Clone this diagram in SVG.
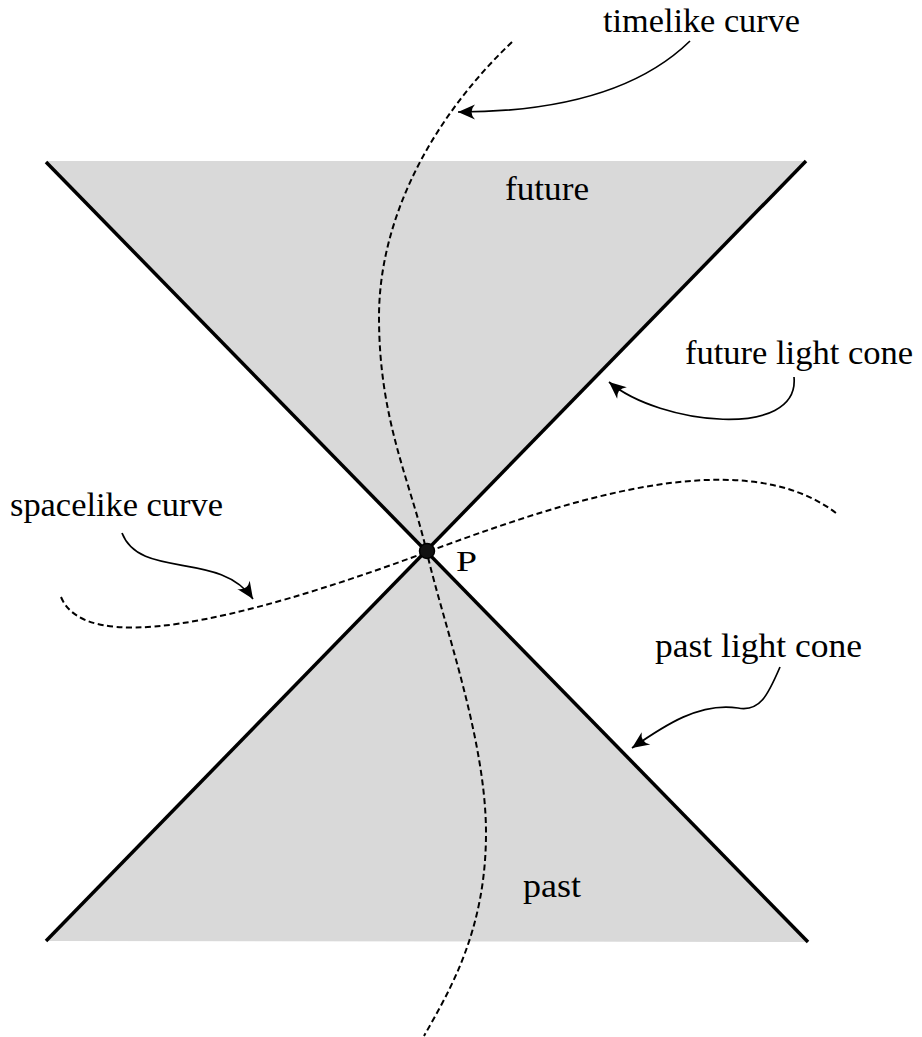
<svg xmlns="http://www.w3.org/2000/svg" width="922" height="1037" viewBox="0 0 922 1037">
<style>
.region{fill:#d9d9d9;stroke:none}
.cone{stroke:#000;stroke-width:3.5;fill:none;stroke-linecap:butt}
.curve{stroke:#000;stroke-width:2;fill:none;stroke-dasharray:6,3.5}
.conn{stroke:#000;stroke-width:1.7;fill:none;marker-end:url(#ah)}
</style>
<defs>
<marker id="ah" viewBox="-18 -8 19 16" refX="0" refY="0" markerWidth="19" markerHeight="16" markerUnits="userSpaceOnUse" orient="auto">
<path d="M0,0 L-17,-7.5 Q-10,0 -17,7.5 Z" fill="#000"/>
</marker>
</defs>
<rect width="922" height="1037" fill="#fff"/>
<g id="future-region">
<polygon class="region" points="46,161 806,161 427,552"/>
<text font-family="Liberation Serif, DejaVu Serif, serif" font-size="33" fill="#000" x="505" y="200" textLength="84" lengthAdjust="spacingAndGlyphs">future</text>
</g>
<g id="past-region">
<polygon class="region" points="427,552 808,942 46,941"/>
<text font-family="Liberation Serif, DejaVu Serif, serif" font-size="33" fill="#000" x="523" y="897" textLength="58" lengthAdjust="spacingAndGlyphs">past</text>
</g>
<g id="light-cone">
<line class="cone" x1="46" y1="162" x2="808" y2="942"/>
<line class="cone" x1="806" y1="161" x2="46" y2="941"/>
</g>
<g id="timelike-curve">
<path class="curve" d="M512,42 C430,120 379,220 379,317 C379,420 410,480 427,553 C444,626 486,740 486,833 C486,930 450,990 424,1036"/>
</g>
<g id="spacelike-curve">
<path class="curve" d="M61,597 C85,655 230,625 427,552 C560,503 740,440 836,513"/>
</g>
<g id="point-P">
<circle cx="427" cy="551" r="7.5" fill="#111" stroke="#000" stroke-width="1.5"/>
<text font-family="Liberation Serif, DejaVu Serif, serif" font-size="30" fill="#000" x="456" y="571" textLength="21" lengthAdjust="spacingAndGlyphs">P</text>
</g>
<g id="label-timelike">
<text font-family="Liberation Serif, DejaVu Serif, serif" font-size="33" fill="#000" x="603" y="32" textLength="197" lengthAdjust="spacingAndGlyphs">timelike curve</text>
</g>
<g id="label-future-cone">
<text font-family="Liberation Serif, DejaVu Serif, serif" font-size="33" fill="#000" x="685" y="364" textLength="228" lengthAdjust="spacingAndGlyphs">future light cone</text>
</g>
<g id="label-spacelike">
<text font-family="Liberation Serif, DejaVu Serif, serif" font-size="33" fill="#000" x="10" y="516" textLength="213" lengthAdjust="spacingAndGlyphs">spacelike curve</text>
</g>
<g id="label-past-cone">
<text font-family="Liberation Serif, DejaVu Serif, serif" font-size="33" fill="#000" x="655" y="657" textLength="207" lengthAdjust="spacingAndGlyphs">past light cone</text>
</g>
<g id="connectors">
<path class="conn" d="M690,41 C650,80 580,112 458,112"/>
<path class="conn" d="M794,377 C800,440 660,425 609,382"/>
<path class="conn" d="M122,533 C140,580 220,550 253,599"/>
<path class="conn" d="M780,667 C768,695 760,712 738,708 C700,702 665,725 632,748"/>
</g>
</svg>
